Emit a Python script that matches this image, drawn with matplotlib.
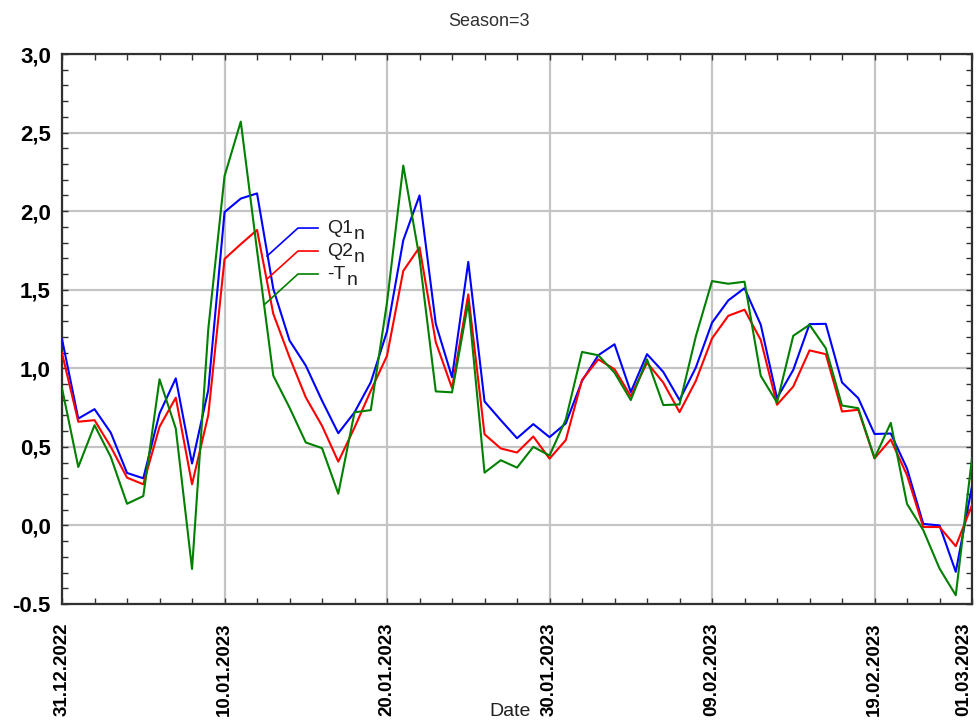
import numpy as np
import matplotlib
matplotlib.use("Agg")
import matplotlib.pyplot as plt
from matplotlib.ticker import MultipleLocator
from matplotlib.transforms import offset_copy

# ----------------------------------------------------------------------------------------------------------------------
# Chart data (one value per observation, read off the reference)

q1_n = [1.185, 0.68, 0.74, 0.59, 0.334, 0.30, 0.713, 0.936, 0.394, 0.862,
        1.994, 2.08, 2.113, 1.506, 1.177, 1.017, 0.794, 0.587, 0.72, 0.911,
        1.235, 1.815, 2.10, 1.283, 0.943, 1.677, 0.789, 0.67, 0.555, 0.645,
        0.562, 0.649, 0.92, 1.083, 1.153, 0.849, 1.09, 0.977, 0.798, 1.004,
        1.29, 1.432, 1.51, 1.277, 0.81, 0.99, 1.281, 1.283, 0.91, 0.81,
        0.582, 0.585, 0.362, 0.01, 0.0, -0.295, 0.25]

q2_n = [1.096, 0.66, 0.67, 0.50, 0.304, 0.262, 0.628, 0.813, 0.262, 0.702,
        1.696, 1.79, 1.88, 1.347, 1.07, 0.815, 0.634, 0.406, 0.623, 0.857,
        1.08, 1.62, 1.77, 1.166, 0.874, 1.47, 0.58, 0.49, 0.464, 0.566,
        0.425, 0.543, 0.926, 1.057, 0.994, 0.823, 1.036, 0.909, 0.721, 0.919,
        1.19, 1.334, 1.373, 1.18, 0.768, 0.884, 1.114, 1.09, 0.725, 0.736,
        0.427, 0.547, 0.32, -0.01, -0.01, -0.132, 0.13]

minus_t_n = [0.872, 0.372, 0.638, 0.436, 0.138, 0.187, 0.93, 0.617, -0.277, 1.25,
             2.223, 2.57, 1.75, 0.953, 0.75, 0.528, 0.492, 0.202, 0.72, 0.734,
             1.42, 2.29, 1.70, 0.853, 0.847, 1.42, 0.336, 0.415, 0.368, 0.50,
             0.445, 0.674, 1.104, 1.083, 0.972, 0.798, 1.057, 0.766, 0.77, 1.202,
             1.555, 1.538, 1.551, 0.952, 0.782, 1.207, 1.277, 1.128, 0.763, 0.746,
             0.428, 0.653, 0.137, -0.03, -0.274, -0.444, 0.43]

date_ticks = [0, 10, 20, 30, 40, 50, 56]
date_labels = ["31.12.2022", "10.01.2023", "20.01.2023", "30.01.2023",
               "09.02.2023", "19.02.2023", "01.03.2023"]

y_ticks = [-0.5, 0.0, 0.5, 1.0, 1.5, 2.0, 2.5, 3.0]
y_labels = ["-0.5", "0,0", "0,5", "1,0", "1,5", "2,0", "2,5", "3,0"]

# Legend names split into main text + subscript
series_main = ["Q1", "Q2", "-T"]
series_sub = ["n", "n", "n"]
series_colors = ["#0000ff", "#ff0000", "#008000"]

# ----------------------------------------------------------------------------------------------------------------------

plt.rcParams["font.family"] = ["Liberation Sans", "DejaVu Sans"]

fig = plt.figure(figsize=(9.77, 7.22), dpi=100)
ax = fig.add_axes([0.0635, 0.1634, 0.9314, 0.7618])

# Plot Each Series Against The Observation Index
x = np.arange(len(q1_n))
for values, color in zip([q1_n, q2_n, minus_t_n], series_colors):
    ax.plot(x, values, color=color, linewidth=1.5, zorder=3)

ax.set_xlim(0, 56)
ax.set_ylim(-0.5, 3.0)

# Grid & Ticks | Inward Ticks On All Four Sides
ax.grid(True, which="major", color="#c4c4c4", linewidth=1.6, zorder=0)
ax.set_axisbelow(True)
ax.xaxis.set_minor_locator(MultipleLocator(2))
ax.yaxis.set_minor_locator(MultipleLocator(0.1))
ax.set_xticks(date_ticks)
ax.set_xticklabels(date_labels, rotation=90, fontsize=13.5, fontweight="bold")
ax.set_yticks(y_ticks)
ax.set_yticklabels(y_labels, fontsize=16, fontweight="bold")
ax.tick_params(which="both", direction="in", top=True, right=True, color="#303030")
ax.tick_params(which="both", length=4, width=1)
ax.tick_params(axis="x", pad=13)
ax.tick_params(axis="y", pad=8)

# Last date label sits against the right edge
ax.get_xticklabels()[-1].set_horizontalalignment("right")

for spine in ax.spines.values():
    spine.set_color("#303030")
    spine.set_linewidth(1.6)

# Legend With Leader Lines (Drawn In Axes Fraction)
leader_start = [(0.2253, 0.6327), (0.2253, 0.5909), (0.2231, 0.5455)]
leader_y = [0.6836, 0.6418, 0.6000]
fig.canvas.draw()
renderer = fig.canvas.get_renderer()
for (sx, sy), ly, main, sub, color in zip(leader_start, leader_y, series_main, series_sub, series_colors):
    ax.plot([sx, 0.2593, 0.2813], [sy, ly, ly], color=color, linewidth=1.2,
            transform=ax.transAxes, zorder=4)
    txt = ax.text(0.2915, ly, main, transform=ax.transAxes, fontsize=14,
                  va="center", ha="left", color="#202020")
    width_pts = txt.get_window_extent(renderer).width * 72 / fig.dpi
    sub_trans = offset_copy(ax.transAxes, fig=fig, x=width_pts + 0.5, y=-5, units="points")
    ax.text(0.2915, ly, sub, transform=sub_trans, fontsize=14,
            va="center", ha="left", color="#202020")

fig.text(0.5, 1 - 22 / 722, "Season=3", ha="center", va="center", fontsize=13, color="#303030")
fig.text(510 / 977, 1 - 711 / 722, "Date", ha="center", va="center", fontsize=14, color="#202020")

fig.savefig("out.png", dpi=100)
